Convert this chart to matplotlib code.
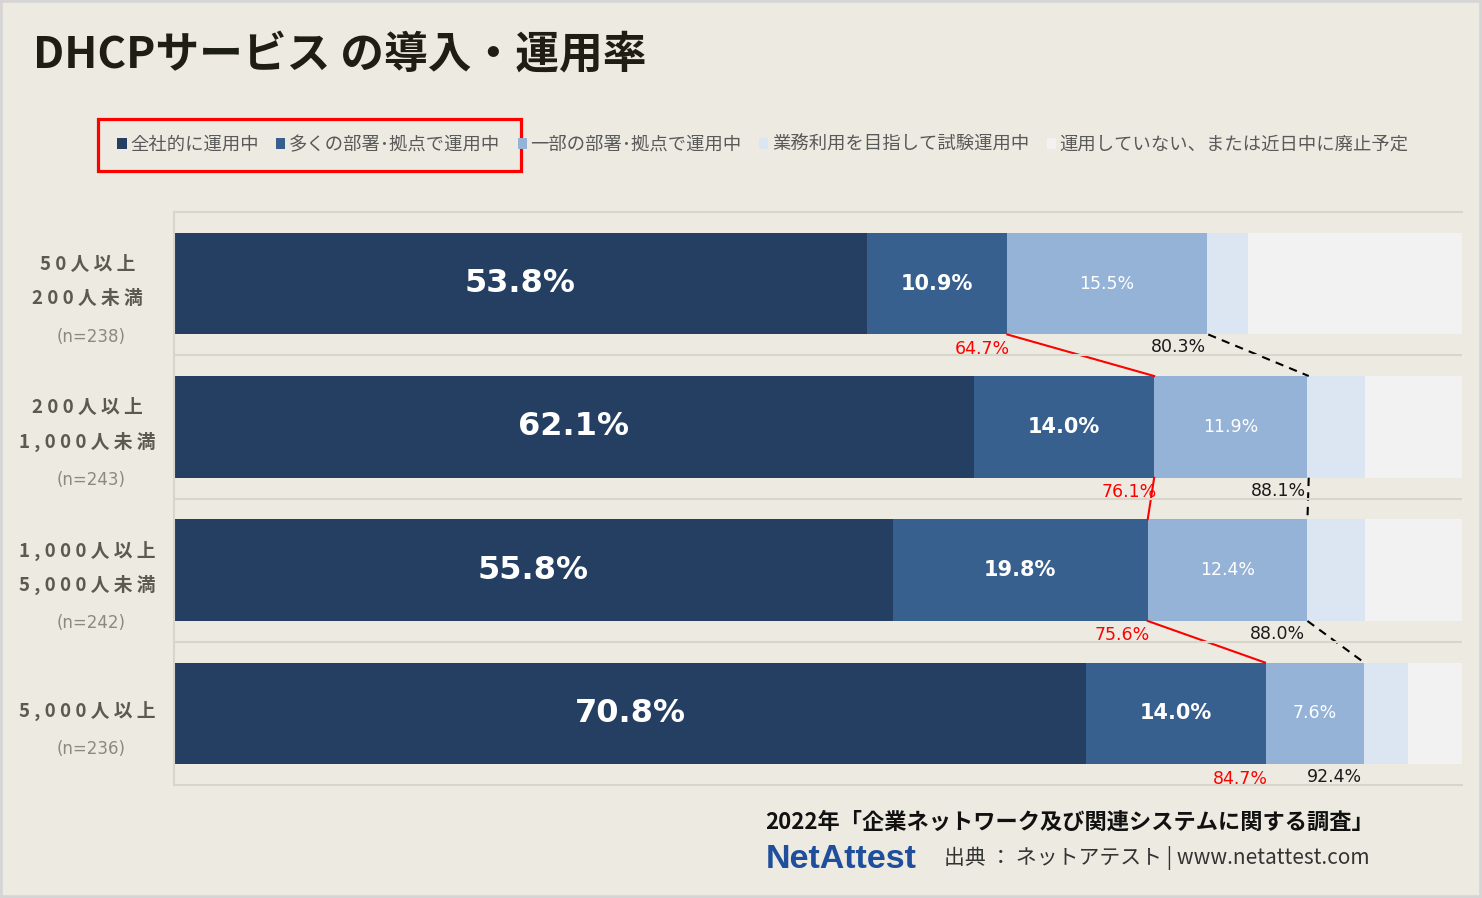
import matplotlib.pyplot as plt
from matplotlib.patches import Rectangle

plt.rcParams['font.family'] = ['Noto Sans CJK JP', 'DejaVu Sans']

# data
groups = [['50人以上', '200人未満'], ['200人以上', '1,000人未満'],
          ['1,000人以上', '5,000人未満'], ['5,000人以上']]
n_labels = ['(n=238)', '(n=243)', '(n=242)', '(n=236)']
series = ['全社的に運用中', '多くの部署･拠点で運用中', '一部の部署･拠点で運用中',
          '業務利用を目指して試験運用中', '運用していない、または近日中に廃止予定']
company_wide = [53.8, 62.1, 55.8, 70.8]
many_depts = [10.9, 14.0, 19.8, 14.0]
some_depts = [15.5, 11.9, 12.4, 7.6]
trial = [3.2, 4.5, 4.5, 3.4]
not_used = [16.6, 7.5, 7.5, 4.2]
cum_two = [64.7, 76.1, 75.6, 84.7]
cum_three = [80.3, 88.1, 88.0, 92.4]

colors = ['#253F63', '#38608F', '#95B3D7', '#DCE6F2', '#F2F2F2']
bg = '#EDEBE1'
W, H = 1482, 898


def fx(px):
    return px / W


def fy(py):
    return 1 - py / H


fig = plt.figure(figsize=(W / 100, H / 100), dpi=100, facecolor=bg)
ax = fig.add_axes([fx(174), fy(785), 1288 / W, 573 / H])
ax.set_facecolor(bg)

values = [company_wide, many_depts, some_depts, trial, not_used]
rows = range(len(groups))
bh = 0.71
left = [0.0] * len(groups)
for k, vals in enumerate(values):
    ax.barh(list(rows), vals, left=left, height=bh, color=colors[k], label=series[k])
    for i, v in enumerate(vals):
        c = left[i] + v / 2
        if k == 0:
            ax.text(c, i, f'{v:.1f}%', ha='center', va='center', color='white',
                    fontsize=23, fontweight='bold', family='DejaVu Sans')
        elif k == 1:
            ax.text(c, i, f'{v:.1f}%', ha='center', va='center', color='white',
                    fontsize=15, fontweight='bold', family='DejaVu Sans')
        elif k == 2:
            ax.text(c, i, f'{v:.1f}%', ha='center', va='center', color='white',
                    fontsize=12.5, family='DejaVu Sans')
    left = [l + v for l, v in zip(left, vals)]

# connectors between rows
for i in range(len(groups) - 1):
    ax.plot([cum_two[i], cum_two[i + 1]], [i + bh / 2, i + 1 - bh / 2],
            color='#FF0000', lw=1.5)
    ax.plot([cum_three[i], cum_three[i + 1]], [i + bh / 2, i + 1 - bh / 2],
            color='black', lw=1.5, linestyle=(0, (4, 3)))

for i in rows:
    ax.text(cum_two[i] + 0.2, i + bh / 2 + 0.1, f'{cum_two[i]:.1f}%', ha='right',
            va='center', color='#FF0000', fontsize=12.5, family='DejaVu Sans')
    ax.text(cum_three[i] - 0.2, i + bh / 2 + 0.09, f'{cum_three[i]:.1f}%', ha='right',
            va='center', color='#1A1A1A', fontsize=12.5, family='DejaVu Sans')

# separators / frame of plot area
for y in [0.5, 1.5, 2.5]:
    ax.axhline(y, color='#D8D5CB', lw=1.5)
ax.set_xlim(0, 100)
ax.set_ylim(3.5, -0.5)
for s in ['left', 'top', 'bottom']:
    ax.spines[s].set_color('#D8D5CB')
    ax.spines[s].set_linewidth(1.5)
ax.spines['right'].set_visible(False)
ax.set_xticks([])
ax.set_yticks([])

# category labels
for i, lines in enumerate(groups):
    nl = len(lines)
    offs = [(j - (nl - 1) / 2) * 34 - 2 for j in range(nl)]
    for j, line in enumerate(lines):
        ax.annotate(' '.join(line), xy=(-6.7, i), xytext=(0, -offs[j] * 0.72),
                    textcoords='offset points', ha='center', va='center',
                    fontsize=13.5, fontweight='bold', color='#5A5A50',
                    annotation_clip=False)
    ax.annotate(n_labels[i], xy=(-6.4, i), xytext=(0, -(offs[-1] + 38) * 0.72),
                textcoords='offset points', ha='center', va='center',
                fontsize=12, color='#8A8A80', family='DejaVu Sans',
                annotation_clip=False)

# title
fig.text(fx(33), fy(55), 'DHCPサービス の導入・運用率', fontsize=31.5,
         fontweight='bold', color='#1E1E14', va='center')

# legend
handles, labels = ax.get_legend_handles_labels()
leg = fig.legend(handles, labels, ncol=5, loc='center', bbox_to_anchor=(fx(763), fy(145)),
                 frameon=False, fontsize=13.2, handlelength=0.5, handleheight=0.5,
                 handletextpad=0.2, columnspacing=0.95, labelcolor='#595959')
fig.patches.append(Rectangle((fx(98), fy(171)), 423 / W, 52 / H, transform=fig.transFigure,
                             fill=False, ec='#FF0000', lw=2.3))

# footer
fig.text(fx(765), fy(822), '2022年「企業ネットワーク及び関連システムに関する調査」',
         fontsize=16, fontweight='bold', color='#111111', va='center')
fig.text(fx(766), fy(859), 'NetAttest', family='Liberation Sans', fontweight='bold',
         fontsize=24.5, color='#1F4E9C', va='center')
fig.text(fx(944), fy(858), '出典 ： ネットアテスト | www.netattest.com', fontsize=15,
         color='#333333', va='center')

fig.patches.append(Rectangle((0, 0), 1, 1, transform=fig.transFigure, fill=False,
                             ec='#D5D5D5', lw=4))

fig.savefig('out.png', dpi=100, facecolor=bg)
